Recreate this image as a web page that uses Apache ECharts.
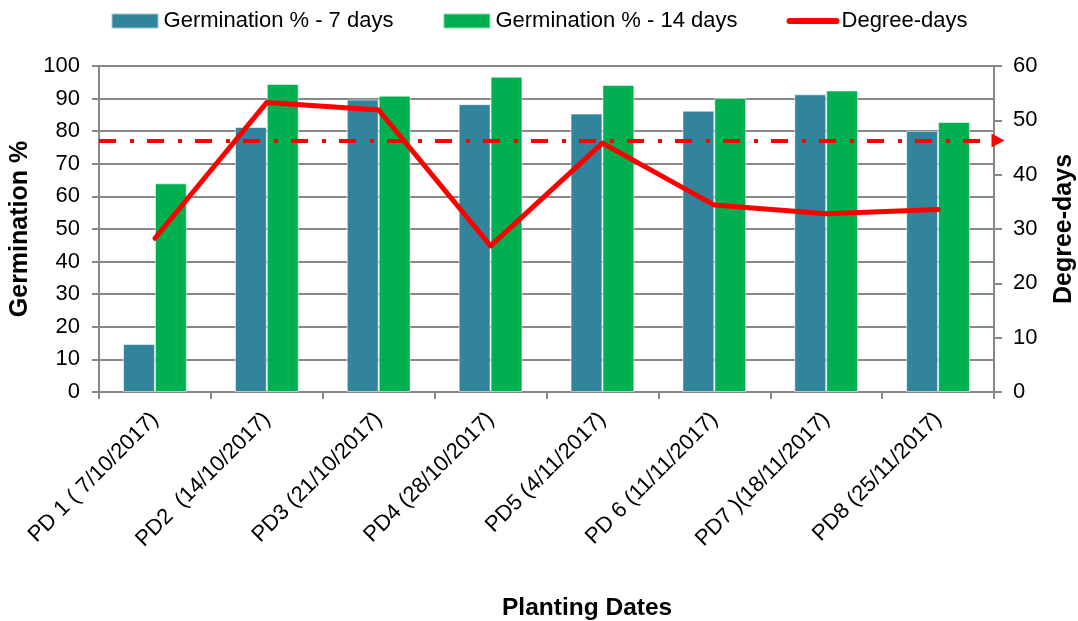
<!DOCTYPE html>
<html>
<head>
<meta charset="utf-8">
<script src="https://cdn.jsdelivr.net/npm/echarts@6/dist/echarts.min.js"></script>
<style>
  html, body { margin: 0; padding: 0; background: #fff; }
  #chart { width: 1078px; height: 621px; }
</style>
</head>
<body>
<div id="chart"></div>
<script>
// Planting dates (x categories)
const categories = [
  'PD 1 ( 7/10/2017)',
  'PD2  (14/10/2017)',
  'PD3 (21/10/2017)',
  'PD4 (28/10/2017)',
  'PD5 (4/11/2017)',
  'PD 6 (11/11/2017)',
  'PD7 )(18/11/2017)',
  'PD8 (25/11/2017)'
];
// Germination percentages
const germ7 = [14.7, 81.3, 89.7, 88.3, 85.4, 86.3, 91.3, 80.1];
const germ14 = [64.0, 94.5, 90.9, 96.7, 94.2, 90.2, 92.5, 82.8];
// Accumulated degree-days (right axis)
const degreeDays = [28.3, 53.3, 51.9, 26.9, 45.8, 34.4, 32.8, 33.6];
// Degree-day reference level (right axis)
const degreeDayRef = [46.3];

const FONT = '"Liberation Sans", Arial, sans-serif';
const GRID_COLOR = '#888888';

const chart = echarts.init(document.getElementById('chart'), null, { renderer: 'canvas' });

chart.setOption({
  backgroundColor: '#ffffff',
  animation: false,
  textStyle: { fontFamily: FONT, color: '#000' },
  title: {
    text: 'Planting Dates',
    left: 497,
    top: 591,
    textStyle: { fontFamily: FONT, fontSize: 24.5, fontWeight: 'bold', color: '#000' }
  },
  legend: {
    top: 5,
    left: 'center',
    itemWidth: 47,
    itemHeight: 15,
    itemGap: 49,
    textStyle: { fontFamily: FONT, fontSize: 22, color: '#000' },
    data: [
      { name: 'Germination % - 7 days', icon: 'rect' },
      { name: 'Germination % - 14 days', icon: 'rect' },
      {
        name: 'Degree-days',
        itemStyle: { opacity: 0 },
        lineStyle: { width: 6, cap: 'round', color: '#FF0000' }
      }
    ]
  },
  grid: {
    left: 99, right: 84, top: 66, bottom: 229,
    containLabel: false,
    outerBoundsMode: 'none'
  },
  xAxis: {
    type: 'category',
    data: categories,
    boundaryGap: true,
    axisLine: { lineStyle: { color: GRID_COLOR, width: 2 } },
    axisTick: { show: true, length: 7, lineStyle: { color: GRID_COLOR, width: 2 } },
    axisLabel: {
      rotate: 45,
      interval: 0,
      margin: 24,
      fontFamily: FONT,
      fontSize: 22,
      color: '#000'
    }
  },
  yAxis: [
    {
      type: 'value',
      min: 0,
      max: 100,
      interval: 10,
      name: 'Germination %',
      nameLocation: 'middle',
      nameRotate: 90,
      nameGap: 66,
      nameTextStyle: { fontFamily: FONT, fontSize: 25, fontWeight: 'bold', color: '#000' },
      axisLine: { show: true, lineStyle: { color: GRID_COLOR, width: 2 } },
      axisTick: { show: true, length: 7, lineStyle: { color: GRID_COLOR, width: 2 } },
      axisLabel: { fontFamily: FONT, fontSize: 22, color: '#000', margin: 19 },
      splitLine: { show: true, lineStyle: { color: GRID_COLOR, width: 2 } }
    },
    {
      type: 'value',
      min: 0,
      max: 60,
      interval: 10,
      position: 'right',
      name: 'Degree-days',
      nameLocation: 'middle',
      nameRotate: 90,
      nameGap: 58,
      nameTextStyle: { fontFamily: FONT, fontSize: 25, fontWeight: 'bold', color: '#000' },
      axisLine: { show: true, lineStyle: { color: GRID_COLOR, width: 2 } },
      axisTick: { show: true, length: 8, lineStyle: { color: GRID_COLOR, width: 2 } },
      axisLabel: { fontFamily: FONT, fontSize: 22, color: '#000', margin: 19 },
      splitLine: { show: false }
    }
  ],
  series: [
    {
      name: 'Germination % - 7 days',
      type: 'bar',
      data: germ7,
      barGap: '0%',
      barCategoryGap: '43%',
      itemStyle: { color: '#31849B', borderColor: 'rgba(255,255,255,0.55)', borderWidth: 1 }
    },
    {
      name: 'Germination % - 14 days',
      type: 'bar',
      data: germ14,
      barGap: '0%',
      barCategoryGap: '43%',
      itemStyle: { color: '#00B050', borderColor: 'rgba(255,255,255,0.55)', borderWidth: 1 }
    },
    {
      name: 'Degree-days',
      type: 'line',
      yAxisIndex: 1,
      data: degreeDays,
      symbol: 'none',
      z: 5,
      lineStyle: { color: '#FF0000', width: 5, cap: 'round', join: 'round' },
      itemStyle: { color: '#FF0000' },
      markLine: {
        silent: true,
        symbol: ['none', 'triangle'],
        symbolSize: [14, 13],
        symbolOffset: [0, [0, -4]],
        label: { show: false },
        lineStyle: { color: '#FF0000', width: 4, type: [17, 14, 4, 13] },
        emphasis: { disabled: true },
        data: degreeDayRef.map(v => ({ yAxis: v }))
      }
    }
  ]
});
</script>
</body>
</html>
